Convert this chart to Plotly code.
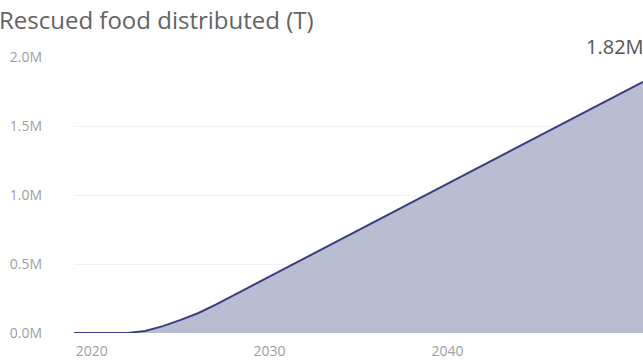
import plotly.graph_objects as go

# Rescued food distributed per year, in tonnes
years = list(range(2019, 2052))
tonnes = [
    0, 0, 0, 0, 15000, 50000, 95000, 145000, 208000, 275000,
    342000, 410000, 478000, 546000, 613000, 680000, 747000, 814000, 881000, 948000,
    1015000, 1082000, 1149000, 1216000, 1283000, 1350000, 1417000, 1484000, 1551000, 1618000,
    1685000, 1752000, 1820000,
]

y_tickvals = [0, 500000, 1000000, 1500000, 2000000]
y_ticktext = ["0.0M", "0.5M", "1.0M", "1.5M", "2.0M"]
x_tickvals = [2020, 2030, 2040]
x_ticktext = ["2020", "2030", "2040"]

title_text = "Rescued food distributed (T)"
end_label = "1.82M"

LINE = "#3b3d82"
FILL = "#b8bdd2"
FONT = "Open Sans, sans-serif"

W, H = 643, 361
ML, MR, MT, MB = 74, 0, 57, 28
plot_w = W - ML - MR
plot_h = H - MT - MB

fig = go.Figure()
fig.add_trace(go.Scatter(
    x=years, y=tonnes,
    mode="lines",
    line=dict(color=LINE, width=2),
    fill="tozeroy",
    fillcolor=FILL,
    hoverinfo="skip",
    showlegend=False,
))

# value label over the last point
fig.add_annotation(
    x=years[-1], y=tonnes[-1],
    text=end_label,
    showarrow=False,
    xanchor="right", yanchor="bottom",
    xshift=3, yshift=20,
    font=dict(family=FONT, size=20, color="#555555"),
)

# chart title, top-left of the canvas
fig.add_annotation(
    xref="paper", yref="paper",
    x=-ML / plot_w, y=(plot_h + MT - 19) / plot_h,
    xanchor="left", yanchor="middle",
    xshift=-3,
    text=title_text,
    showarrow=False,
    font=dict(family=FONT, size=24, color="#636363"),
)

fig.update_layout(
    width=W, height=H,
    margin=dict(l=ML, r=MR, t=MT, b=MB),
    paper_bgcolor="white",
    plot_bgcolor="white",
    font=dict(family=FONT),
)

fig.update_xaxes(
    range=[2019, 2051],
    tickvals=x_tickvals, ticktext=x_ticktext,
    showgrid=False, zeroline=False, showline=False,
    ticks="", ticklabelstandoff=8,
    tickfont=dict(size=14, color="#9e9e9e"),
)
fig.update_yaxes(
    range=[0, 2000000],
    tickvals=y_tickvals, ticktext=y_ticktext,
    showgrid=True, gridcolor="#f1f1f1", gridwidth=1,
    zeroline=False, showline=False,
    ticks="", ticklabelstandoff=31,
    tickfont=dict(size=14, color="#9e9e9e"),
)

fig.write_html("out.html")
